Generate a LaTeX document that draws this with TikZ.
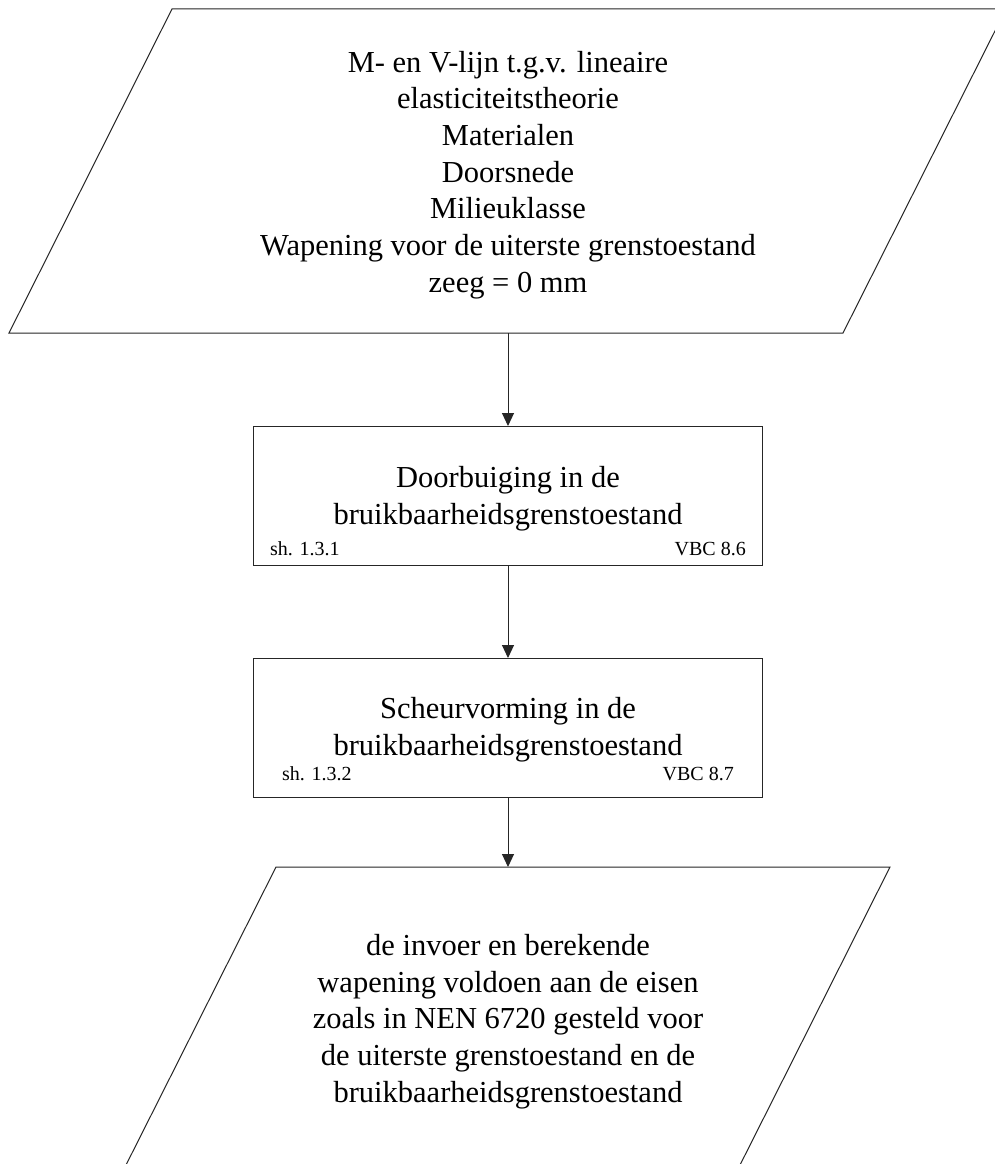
\documentclass[tikz,border=0pt]{standalone}
\usepackage{fontspec}
\setmainfont{Liberation Serif}
\usetikzlibrary{arrows.meta}
\begin{document}
\begin{tikzpicture}[x=1pt,y=-1pt,
  line/.style={draw=black!85, line width=1pt},
  arr/.style={line, -{Triangle[length=13pt,width=12pt]}},
  procbox/.style={line, rectangle, minimum width=509pt, minimum height=139pt, inner sep=0pt, outer sep=0pt},
  maintext/.style={font=\fontsize{30.5}{36.7}\selectfont, align=center, inner sep=0pt},
  smalltext/.style={font=\fontsize{20}{24}\selectfont, inner sep=0pt}]
\useasboundingbox (0,0) rectangle (995,1164);
\fill[white] (0,0) rectangle (995,1164);
\begin{scope}
\clip (0,0) rectangle (995,1164);
% input parallelogram
\draw[line] (172,9) -- (1006,9) -- (843,333) -- (9,333) -- cycle;
\coordinate (inS) at (508,333);
\node[maintext] (intext) at (508,175) {M- en V-lijn t.g.v. lineaire\\elasticiteitstheorie\\Materialen\\Doorsnede\\Milieuklasse\\Wapening voor de uiterste grenstoestand\\zeeg = 0 mm};
% process boxes
\node[procbox] (b1) at (508,495.5) {};
\node[maintext] (b1t) at (508,499) {Doorbuiging in de\\bruikbaarheidsgrenstoestand};
\node[smalltext, anchor=base west] (b1l) at (270,555) {sh. 1.3.1};
\node[smalltext, anchor=base east] (b1r) at (746,555) {VBC 8.6};
\node[procbox] (b2) at (508,727.5) {};
\node[maintext] (b2t) at (508,730) {Scheurvorming in de\\bruikbaarheidsgrenstoestand};
\node[smalltext, anchor=base west] (b2l) at (282,780) {sh. 1.3.2};
\node[smalltext, anchor=base east] (b2r) at (734,780) {VBC 8.7};
% output parallelogram
\draw[line] (276,867) -- (890,867) -- (738,1169) -- (124,1169) -- cycle;
\coordinate (outN) at (508,867);
\node[maintext] (outtext) at (508,1021.5) {de invoer en berekende\\wapening voldoen aan de eisen\\zoals in NEN 6720 gesteld voor\\de uiterste grenstoestand en de\\bruikbaarheidsgrenstoestand};
% connectors
\draw[arr] (inS) -- (b1.north);
\draw[arr] (b1.south) -- (b2.north);
\draw[arr] (b2.south) -- (outN);
\end{scope}
\end{tikzpicture}
\end{document}
